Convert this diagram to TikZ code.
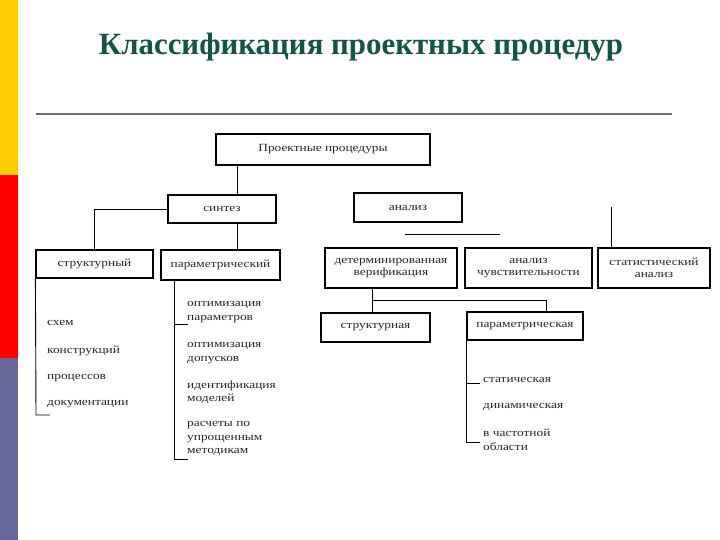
\documentclass[tikz,border=0pt]{standalone}
\usepackage{fontspec}
\setmainfont{Liberation Serif}
\newfontfamily\boxfont[FakeStretch=1.22]{Liberation Serif}
\usepackage{tikz}
\definecolor{titlegreen}{HTML}{135449}
\definecolor{stripeyellow}{HTML}{FFCC00}
\definecolor{stripered}{HTML}{FF0000}
\definecolor{stripeblue}{HTML}{666699}
\definecolor{rulegray}{HTML}{6B6B7E}
\tikzset{
    BX/.style ={rectangle, draw, line width=1.2pt, inner sep=0pt, text=black!85, align=center,
                font=\boxfont\fontsize{11}{12}\selectfont},
    IT/.style ={anchor=west, inner sep=0pt, text=black!85, align=left,
                font=\boxfont\fontsize{11}{13.5}\selectfont},
    LN/.style ={line width=0.9pt}}

\begin{document}
\begin{tikzpicture}[x=1bp,y=-1bp]
        \useasboundingbox (0,0) rectangle (720,540);
        \fill[stripeyellow] (0,0) rectangle (18,175);
        \fill[stripered] (0,175) rectangle (18,358);
        \fill[stripeblue] (0,358) rectangle (18,540);
        \node[font=\bfseries\fontsize{31}{34}\selectfont, text=titlegreen, anchor=base] (title) at (361,55) {Классификация проектных процедур};
        \draw[rulegray, line width=2.5pt] (36,114) -- (672,114);
        % boxes
        \node[BX, minimum width=214bp, minimum height=31bp] (proc) at (323,149.5) {Проектные процедуры};
        \node[BX, minimum width=108bp, minimum height=28bp] (synth) at (222,209) {синтез};
        \node[BX, minimum width=108bp, minimum height=29bp] (anal) at (408,207.5) {анализ};
        \node[BX, minimum width=117bp, minimum height=28bp] (strc) at (94.5,264) {структурный};
        \node[BX, minimum width=119bp, minimum height=30bp] (parm) at (220.5,265) {параметрический};
        \node[BX, minimum width=132bp, minimum height=40bp] (detv) at (391,268) {детерминированная\\верификация};
        \node[BX, minimum width=127bp, minimum height=40bp] (sens) at (528.5,268) {анализ\\чувствительности};
        \node[BX, minimum width=112bp, minimum height=40bp] (stat) at (654,268) {статистический\\анализ};
        \node[BX, minimum width=109bp, minimum height=29bp] (vstr) at (375.5,327.5) {структурная};
        \node[BX, minimum width=116bp, minimum height=28bp] (vpar) at (525,326) {параметрическая};
        % connectors
        \coordinate (trunk) at (237,0);
        \draw[LN] (proc.south -| trunk) -- (synth.north -| trunk);
        \draw[LN] (synth.south -| trunk) -- (parm.north -| trunk);
        \draw[LN] (synth.west) -| (strc.north);
        \coordinate (ua) at (405,234);
        \coordinate (ub) at (500,234);
        \draw[LN] (ua) -- (ub);
        \coordinate (sa) at (611,207);
        \draw[LN] (sa) -- (stat.north -| sa);
        \coordinate (split) at (372,300);
        \coordinate (splitend) at (546,300);
        \draw[LN] (detv.south -| split) -- (vstr.north -| split);
        \draw[LN] (split) -- (splitend) -- (vpar.north -| splitend);
        % lists
        \draw[LN] (strc.south west) -- (36,415) -- (50,415);
        \draw[LN] (174,280) -- (174,459) -- (188,459);
        \draw[LN] (174,324) -- (188,324);
        \draw[LN] (466,340) -- (466,442) -- (480,442);
        \draw[LN] (466,383) -- (480,383);
        \node[IT] (s1) at (47,323) {схем};
        \node[IT] (s2) at (47,351) {конструкций};
        \node[IT] (s3) at (47,378) {процессов};
        \node[IT] (s4) at (47,404) {документации};
        \node[IT] (p1) at (187,312) {оптимизация\\параметров};
        \node[IT] (p2) at (187,353) {оптимизация\\допусков};
        \node[IT] (p3) at (187,392) {идентификация\\моделей};
        \node[IT] (p4) at (187,438.5) {расчеты по\\упрощенным\\методикам};
        \node[IT] (a1) at (483,380) {статическая};
        \node[IT] (a2) at (483,407) {динамическая};
        \node[IT] (a3) at (483,440) {в частотной\\области};
    \end{tikzpicture}
\end{document}
